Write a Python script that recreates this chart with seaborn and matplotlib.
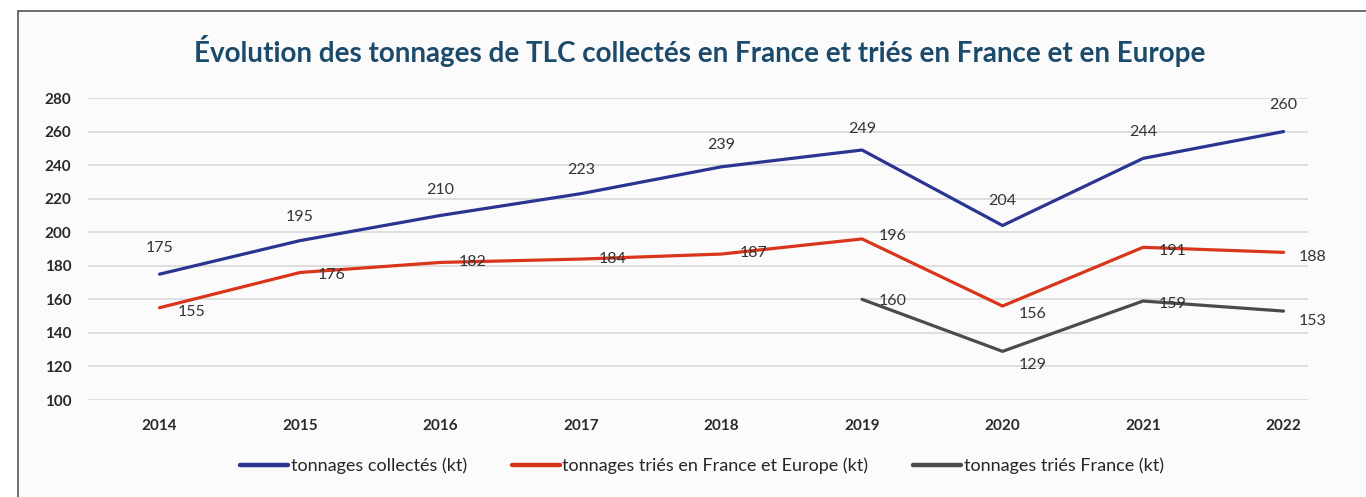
import numpy as np
import pandas as pd
import seaborn as sns
import matplotlib.pyplot as plt
from matplotlib.patches import Rectangle

years = [2014, 2015, 2016, 2017, 2018, 2019, 2020, 2021, 2022]
collectes = [175, 195, 210, 223, 239, 249, 204, 244, 260]
tries_fr_eu = [155, 176, 182, 184, 187, 196, 156, 191, 188]
tries_fr = [np.nan, np.nan, np.nan, np.nan, np.nan, 160, 129, 159, 153]

series_names = ['tonnages collectés (kt)',
                'tonnages triés en France et Europe (kt)',
                'tonnages triés France (kt)']
colors = {series_names[0]: '#2b3591',
          series_names[1]: '#d9351c',
          series_names[2]: '#4b4b4b'}

# label offsets (points) for each series
offsets = {series_names[0]: [(0, 19), (0, 17), (0, 18), (0, 17), (0, 16), (0, 15), (0, 18), (0, 19), (0, 19)],
           series_names[1]: [(23, -3), (23, -2), (23, 0), (23, 0), (23, 1), (22, 2), (22, -6), (21, -3), (21, -3)],
           series_names[2]: [None] * 5 + [(22, -1), (22, -10), (21, -2), (21, -7)]}

df = pd.DataFrame({'year': years * 3,
                   'value': collectes + tries_fr_eu + tries_fr,
                   'serie': [series_names[0]] * 9 + [series_names[1]] * 9 + [series_names[2]] * 9})

sns.set_theme(style='white')
plt.rcParams['font.family'] = ['Lato', 'DejaVu Sans']

fig = plt.figure(figsize=(13.66, 4.97), dpi=100)
W, H = 1366, 497
# outer frame
fig.patches.append(Rectangle((18 / W, -0.05), 1.0, 1.05 - 11 / H, transform=fig.transFigure,
                             facecolor='#fbfbfb', edgecolor='#555555', linewidth=1.2, zorder=-5))

ax = fig.add_axes([88 / W, 1 - 400 / H, (1308 - 88) / W, (400 - 98) / H])
ax.set_facecolor('none')

sns.lineplot(data=df, x='year', y='value', hue='serie', palette=colors, linewidth=2.3,
             ax=ax, legend=False, sort=False)

ax.set_xlim(2013.491, 2022.174)
ax.set_ylim(100, 280)
ax.set_yticks(range(100, 281, 20))
ax.set_xticks(years)
ax.grid(axis='y', color='#d9d9d9', linewidth=1.2)
ax.set_axisbelow(True)
for s in ax.spines.values():
    s.set_visible(False)
ax.tick_params(axis='y', length=0, pad=12, labelsize=11, labelcolor='#2a2a2a')
ax.tick_params(axis='x', length=0, pad=14, labelsize=11, labelcolor='#2a2a2a')
for lab in ax.get_xticklabels() + ax.get_yticklabels():
    lab.set_fontweight('bold')
ax.set_xlabel('')
ax.set_ylabel('')

for name, vals in zip(series_names, [collectes, tries_fr_eu, tries_fr]):
    for x, v, off in zip(years, vals, offsets[name]):
        if off is None or np.isnan(v):
            continue
        ax.annotate(str(int(v)), (x, v), xytext=off, textcoords='offset points',
                    ha='center', va='center', fontsize=11.5, color='#333333')

fig.text(700 / W, 1 - 62 / H,
         'Évolution des tonnages de TLC collectés en France et triés en France et en Europe',
         ha='center', va='baseline', fontsize=20, fontweight='bold', color='#1b4a6b')

handles = [plt.Line2D([], [], color=colors[n], linewidth=3.2) for n in series_names]
fig.legend(handles, series_names, loc='center', bbox_to_anchor=(702 / W, 1 - 466 / H), ncol=3,
           frameon=False, fontsize=13, handlelength=2.65, handletextpad=0.15, columnspacing=2.5)

fig.savefig('out.png', dpi=100)
